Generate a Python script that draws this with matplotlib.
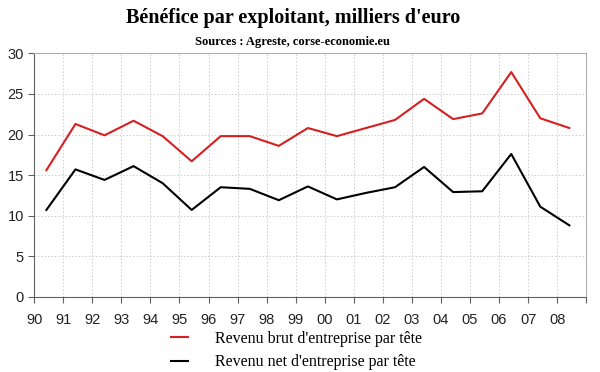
import matplotlib
matplotlib.use("Agg")
import matplotlib.pyplot as plt

# Data (thousands of euro)
years = ["90", "91", "92", "93", "94", "95", "96", "97", "98", "99",
         "00", "01", "02", "03", "04", "05", "06", "07", "08"]
brut = [15.6, 21.3, 19.9, 21.7, 19.8, 16.7, 19.8, 19.8, 18.6, 20.8,
        19.8, 20.8, 21.8, 24.4, 21.9, 22.6, 27.7, 22.0, 20.8]
net = [10.7, 15.7, 14.4, 16.1, 14.0, 10.7, 13.5, 13.3, 11.9, 13.6,
       12.0, 12.8, 13.5, 16.0, 12.9, 13.0, 17.6, 11.1, 8.8]

label_brut = "Revenu brut d'entreprise par tête"
label_net = "Revenu net d'entreprise par tête"

fig = plt.figure(figsize=(6, 3.72), dpi=100)
ax = fig.add_axes([0.057, 0.2024, 0.92, 0.654])

# points sit inside each year interval, a bit before the middle
x = [i + 0.42 for i in range(len(years))]
l1, = ax.plot(x, brut, color="#d62020", lw=1.5, label=label_brut)
l2, = ax.plot(x, net, color="black", lw=1.5, label=label_net)

ax.set_xlim(0, len(years))
ax.set_ylim(0, 30)
ax.set_xticks(range(len(years) + 1))
ax.set_xticklabels(years + [""])
ax.set_yticks(range(0, 31, 5))
ax.grid(True, color="#cccccc", linestyle=(0, (1.5, 2)), linewidth=0.7)
ax.set_axisbelow(True)

for side in ["top", "right"]:
    ax.spines[side].set_color("#b0b0b0")
for side in ["left", "bottom"]:
    ax.spines[side].set_color("#606060")
ax.tick_params(direction="out", length=4, color="#606060",
               labelsize=10.5, labelcolor="#222222")
ax.tick_params(axis="x", pad=8)
for t in ax.get_xticklabels() + ax.get_yticklabels():
    t.set_family("Liberation Sans")

fig.text(0.488, 0.952, "Bénéfice par exploitant, milliers d'euro",
         ha="center", va="center", family="Liberation Serif",
         fontweight="bold", fontsize=14.5)
fig.text(0.488, 0.887, "Sources : Agreste, corse-economie.eu",
         ha="center", va="center", family="Liberation Serif",
         fontweight="bold", fontsize=9)

fig.legend(handles=[l1, l2], loc="upper left",
           bbox_to_anchor=(171 / 600, 1 - 331 / 372),
           frameon=False, borderpad=0, borderaxespad=0,
           handlelength=1.05, handletextpad=1.7, labelspacing=0.45,
           prop={"family": "Liberation Serif", "size": 11.5})

fig.savefig("out.png", dpi=100)
